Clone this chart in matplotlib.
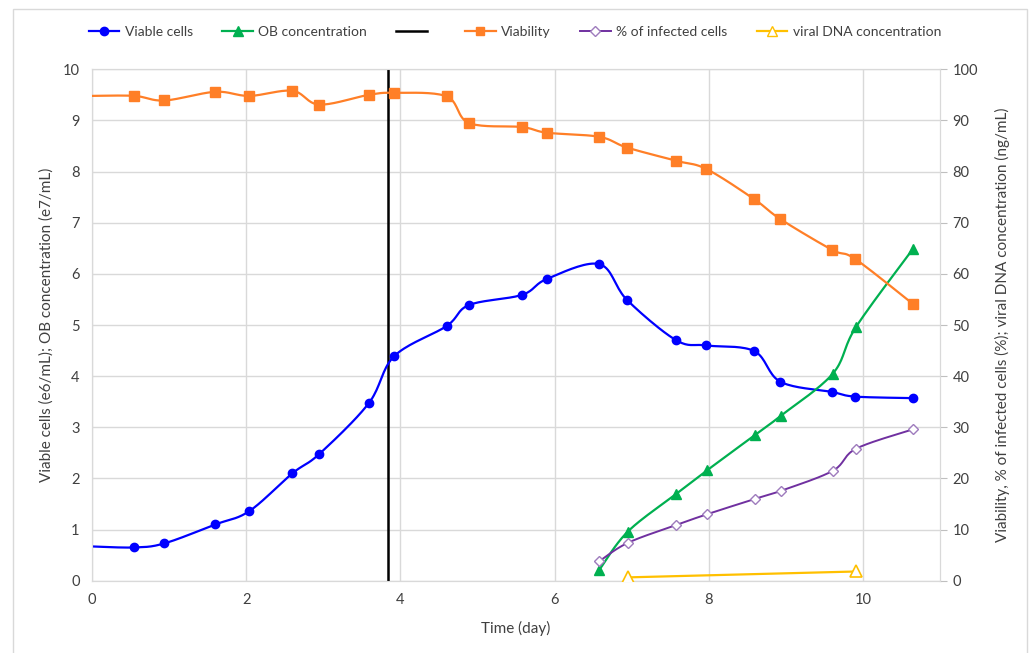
from matplotlib import pyplot as plt
from matplotlib.lines import Line2D
from matplotlib.patches import Rectangle
import numpy as np

# time (day) and values
t_cells = [0.0, 0.55, 0.94, 1.60, 2.04, 2.60, 2.95, 3.59, 3.92, 4.60, 4.89, 5.58, 5.90,
           6.58, 6.94, 7.58, 7.97, 8.59, 8.93, 9.60, 9.90, 10.65]
viable_cells = [0.67, 0.65, 0.73, 1.10, 1.36, 2.10, 2.48, 3.47, 4.39, 4.98, 5.39, 5.59, 5.90,
                6.19, 5.49, 4.70, 4.60, 4.49, 3.89, 3.69, 3.60, 3.57]
viability = [94.8, 94.8, 93.9, 95.6, 94.8, 95.8, 93.1, 95.0, 95.4, 94.7, 89.5, 88.7, 87.6,
             86.8, 84.7, 82.1, 80.5, 74.6, 70.7, 64.7, 62.9, 54.1]

t_inf = [6.58, 6.95, 7.58, 7.98, 8.60, 8.94, 9.61, 9.91, 10.65]
ob_conc = [0.21, 0.96, 1.70, 2.16, 2.85, 3.23, 4.05, 4.96, 6.49]
infected = [3.8, 7.4, 10.9, 13.0, 16.0, 17.6, 21.5, 25.8, 29.6]

t_dna = [6.95, 9.91]
viral_dna = [0.65, 1.8]

infection_day = 3.84

plt.rcParams['font.family'] = ['Lato', 'DejaVu Sans']


def smooth(x, y, n=20):
    # Excel-style smoothed line (Catmull-Rom as cubic Bezier)
    p = np.column_stack([x, y]).astype(float)
    if len(p) < 3:
        return p[:, 0], p[:, 1]
    ext = np.vstack([p[0], p, p[-1]])
    xs, ys = [], []
    s = np.linspace(0, 1, n)
    for i in range(1, len(ext) - 2):
        p0, p1, p2, p3 = ext[i - 1], ext[i], ext[i + 1], ext[i + 2]
        c1 = p1 + (p2 - p0) / 6
        c2 = p2 - (p3 - p1) / 6
        seg = ((1 - s) ** 3)[:, None] * p1 + (3 * (1 - s) ** 2 * s)[:, None] * c1 \
            + (3 * (1 - s) * s ** 2)[:, None] * c2 + (s ** 3)[:, None] * p2
        xs.extend(seg[:, 0]); ys.extend(seg[:, 1])
    return np.array(xs), np.array(ys)


fig = plt.figure(figsize=(10.3, 6.53), dpi=100)
fig.patches.append(Rectangle((13 / 1030, -0.05), 1014 / 1030, 1.05 - 9 / 653,
                             transform=fig.transFigure, fill=False, edgecolor="#d9d9d9", lw=1))
ax = fig.add_axes([92 / 1030, 1 - 580.7 / 653, 848 / 1030, 511.4 / 653])
ax2 = ax.twinx()

blue = "#0000ff"
green = "#00b050"
orange = "#ff7f27"
purple = "#7030a0"
yellow = "#ffc000"

# left axis: viable cells, OB
x, y = smooth(t_cells, viable_cells)
ax.plot(x, y, color=blue, lw=1.6, zorder=4)
ax.plot(t_cells[1:], viable_cells[1:], "o", color=blue, ms=6, zorder=5)
x, y = smooth(t_inf, ob_conc)
ax.plot(x, y, color=green, lw=1.6, zorder=4)
ax.plot(t_inf, ob_conc, "^", color=green, ms=7, zorder=5)
ax.axvline(infection_day, color="black", lw=1.8, zorder=3)

# right axis: viability, infected, viral DNA
x, y = smooth(t_cells, viability)
ax2.plot(x, y, color=orange, lw=1.6, zorder=4)
ax2.plot(t_cells[1:], viability[1:], "s", color=orange, ms=6.5, zorder=5)
x, y = smooth(t_inf, infected)
ax2.plot(x, y, color=purple, lw=1.4, zorder=4)
ax2.plot(t_inf, infected, "D", color=purple, mfc="white", ms=5.5, mew=1, zorder=5,
         markeredgecolor="#9e7bbd")
ax2.plot(t_dna, viral_dna, color=yellow, lw=1.6, zorder=4)
ax2.plot(t_dna, viral_dna, "^", color=yellow, mfc="white", ms=8, mew=1.2, zorder=5)

ax.set_xlim(0, 11)
ax.set_ylim(0, 10)
ax2.set_ylim(0, 100)
ax.set_xticks(range(0, 11, 2))
ax.set_yticks(range(0, 11))
ax2.set_yticks(range(0, 101, 10))
ax.grid(True, color="#d9d9d9", lw=1)
ax.set_axisbelow(True)
for a in (ax, ax2):
    for sp in a.spines.values():
        sp.set_color("#d9d9d9")
ax.tick_params(axis="both", length=0, labelsize=10.5, colors="#404040", pad=9)
ax2.tick_params(axis="y", length=5, color="#bfbfbf", labelsize=10.5, labelcolor="#404040", pad=4)
ax.set_xlabel("Time (day)", fontsize=11, color="#404040", labelpad=10)
ax.set_ylabel("Viable cells (e6/mL); OB concentration (e7/mL)", fontsize=11, color="#404040", labelpad=6)
ax2.set_ylabel("Viability, % of infected cells (%); viral DNA concentration (ng/mL)",
               fontsize=11, color="#404040", labelpad=12)

handles = [
    Line2D([], [], color=blue, marker="o", ms=6, lw=1.6),
    Line2D([], [], color=green, marker="^", ms=7, lw=1.6),
    Line2D([], [], color="black", lw=1.8),
    Line2D([], [], color=orange, marker="s", ms=6, lw=1.6),
    Line2D([], [], color=purple, marker="D", mfc="white", mec="#9e7bbd", ms=5.5, lw=1.4),
    Line2D([], [], color=yellow, marker="^", mfc="white", ms=7, lw=1.6),
]
labels = ["Viable cells", "OB concentration", " ", "Viability", "% of infected cells",
          "viral DNA concentration"]
fig.legend(handles, labels, loc="center", bbox_to_anchor=(0.5, 1 - 32 / 653), ncol=6,
           frameon=False, fontsize=10, handlelength=2.2, columnspacing=2.1, handletextpad=0.4,
           labelcolor="#404040")

fig.savefig("out.png", dpi=100)
